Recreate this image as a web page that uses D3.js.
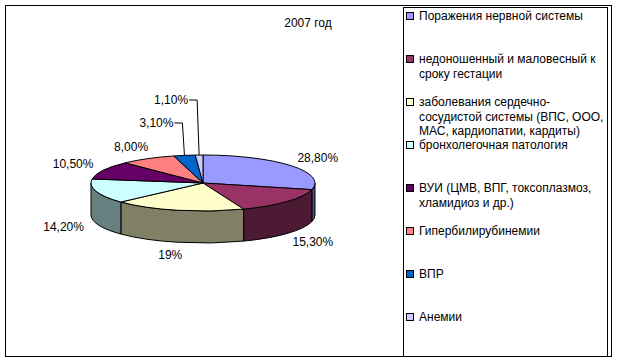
<!DOCTYPE html>
<html>
<head>
<meta charset="utf-8">
<script src="https://cdn.jsdelivr.net/npm/d3@7"></script>
<style>
  body { margin: 0; background: #fff; }
  text { font-family: "Liberation Sans", Arial, sans-serif; font-size: 12px; fill: #000; }
</style>
</head>
<body>
<div id="chart"></div>
<script>
// data
var title = "2007 год";
var categories = [
    "Поражения нервной системы",
    "недоношенный и маловесный к\nсроку гестации",
    "заболевания сердечно-\nсосудистой системы (ВПС, ООО,\nМАС, кардиопатии, кардиты)",
    "бронхолегочная патология",
    "ВУИ (ЦМВ, ВПГ, токсоплазмоз,\nхламидиоз и др.)",
    "Гипербилирубинемии",
    "ВПР",
    "Анемии"
];
var values = [28.8, 15.3, 19, 14.2, 10.5, 8.0, 3.1, 1.1];
var valueLabels = ["28,80%", "15,30%", "19%", "14,20%", "10,50%", "8,00%", "3,10%", "1,10%"];
var colors = ["#9999FF", "#993366", "#FFFFCC", "#CCFFFF", "#660066", "#FF8080", "#0066CC", "#CCCCFF"];

const width = 617, height = 363;
const cx = 203, cy = 183, rx = 112, ry = 28, depth = 32;

var svg = d3.select("#chart").append("svg")
            .attr("width", width)
            .attr("height", height);

// outer frame + legend box
svg.append("rect")
   .attr("x", 5.5).attr("y", 5.5)
   .attr("width", 606).attr("height", 351)
   .attr("fill", "none").attr("stroke", "#000");

svg.append("rect")
   .attr("x", 403.5).attr("y", 7.5)
   .attr("width", 204).attr("height", 349)
   .attr("fill", "none").attr("stroke", "#000");

svg.append("text")
   .attr("x", 308).attr("y", 23)
   .attr("text-anchor", "middle")
   .attr("dominant-baseline", "central")
   .text(title);

// pie geometry: angle 0 at top, clockwise, squashed into an ellipse
var sx = d3.scaleLinear().domain([-1, 1]).range([cx - rx, cx + rx]);
var sy = d3.scaleLinear().domain([-1, 1]).range([cy + ry, cy - ry]);
var color = d3.scaleOrdinal().domain(categories).range(colors);

function pt(a, dy) {
    return [sx(Math.sin(a)), sy(Math.cos(a)) + (dy || 0)];
}

function darker(c) {
    var r = d3.rgb(c);
    return d3.rgb(r.r * 0.5, r.g * 0.5, r.b * 0.5).formatHex();
}

var arcs = d3.pie().sort(null).value(function(d) { return d; })(values);

// side walls (only the front half shows)
var walls = svg.append("g");
arcs.forEach(function(d, i) {
    var b0 = Math.max(d.startAngle, Math.PI / 2);
    var b1 = Math.min(d.endAngle, Math.PI * 1.5);
    if (b1 <= b0) return;
    var p0 = pt(b0), p1 = pt(b1), q1 = pt(b1, depth), q0 = pt(b0, depth);
    var path = d3.path();
    path.moveTo(p0[0], p0[1]);
    path.lineTo(p0[0], p0[1]);
    var s = "M" + p0 + " A" + rx + "," + ry + " 0 0 1 " + p1 +
            " L" + q1 + " A" + rx + "," + ry + " 0 0 0 " + q0 + " Z";
    walls.append("path")
         .attr("d", s)
         .attr("fill", darker(color(categories[i])))
         .attr("stroke", "#000")
         .attr("stroke-width", 1);
});

// top faces
var tops = svg.append("g");
arcs.forEach(function(d, i) {
    var p0 = pt(d.startAngle), p1 = pt(d.endAngle);
    var large = (d.endAngle - d.startAngle) > Math.PI ? 1 : 0;
    var s = "M" + cx + "," + cy + " L" + p0 +
            " A" + rx + "," + ry + " 0 " + large + " 1 " + p1 + " Z";
    tops.append("path")
        .attr("d", s)
        .attr("fill", color(categories[i]))
        .attr("stroke", "#000")
        .attr("stroke-width", 1);
});

// data labels
var labelGap = 34, labelGapY = 13;
var leaderRise = [32, 55];   // small slices get lifted labels with leader lines
var lifted = 0;
arcs.forEach(function(d, i) {
    var mid = (d.startAngle + d.endAngle) / 2;
    if (values[i] < 5) {
        var a = pt(mid);
        var ly = cy - ry - leaderRise[lifted++];
        var ex = a[0] - 2;
        svg.append("path")
           .attr("d", "M" + (ex - 8) + "," + ly + " L" + ex + "," + ly + " L" + a[0] + "," + a[1])
           .attr("fill", "none")
           .attr("stroke", "#000");
        svg.append("text")
           .attr("x", ex - 9).attr("y", ly)
           .attr("text-anchor", "end")
           .attr("dominant-baseline", "central")
           .text(valueLabels[i]);
        return;
    }
    var lx = cx + (rx + labelGap) * Math.sin(mid);
    var ly2 = cy - (ry + labelGapY) * Math.cos(mid) + (Math.cos(mid) < 0 ? depth : 0);
    svg.append("text")
       .attr("x", lx).attr("y", ly2)
       .attr("text-anchor", "middle")
       .attr("dominant-baseline", "central")
       .text(valueLabels[i]);
});

// legend
var ly = d3.scaleLinear().domain([0, categories.length - 1]).range([16, 317]);
var legend = svg.append("g");
categories.forEach(function(c, i) {
    var y = ly(i);
    legend.append("rect")
          .attr("x", 406.5).attr("y", y - 3.5)
          .attr("width", 7).attr("height", 7)
          .attr("fill", color(c))
          .attr("stroke", "#000");
    var t = legend.append("text")
          .attr("x", 419).attr("y", y)
          .attr("dominant-baseline", "central");
    c.split("\n").forEach(function(line, k) {
        t.append("tspan")
         .attr("x", 419)
         .attr("y", y + k * 14.5)
         .text(line);
    });
});
</script>
</body>
</html>
